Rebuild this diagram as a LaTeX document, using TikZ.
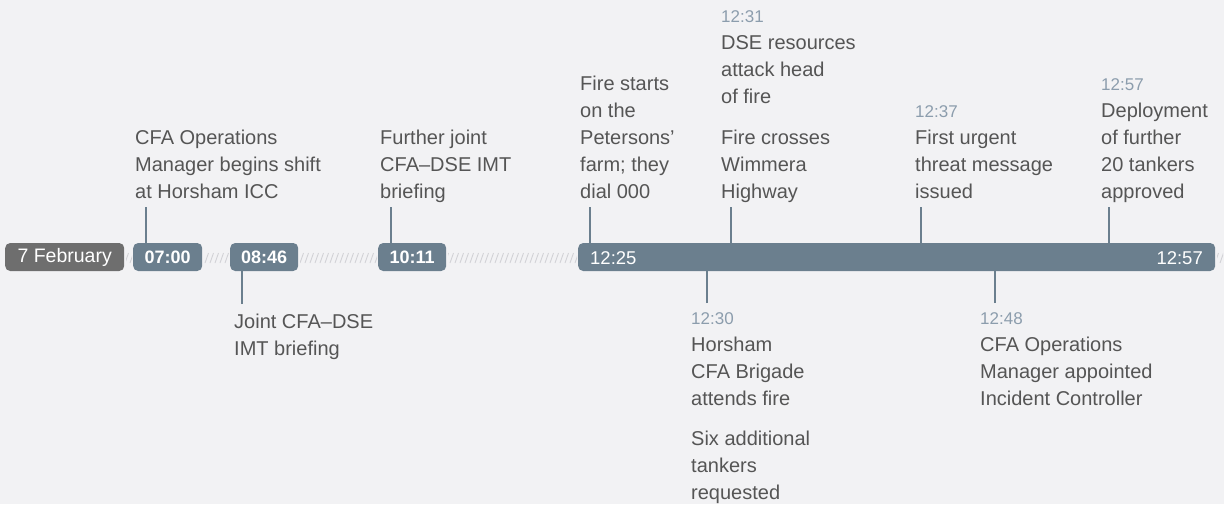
\documentclass[tikz,border=0pt]{standalone}
\usepackage{fontspec}
\setmainfont{Liberation Sans}
\definecolor{bgc}{HTML}{F2F2F4}
\definecolor{barc}{HTML}{6B7F8E}
\definecolor{febc}{HTML}{6E6E6E}
\definecolor{textc}{HTML}{555555}
\definecolor{stampc}{HTML}{8C9DAD}
\definecolor{hatchc}{HTML}{D2D2D6}
\newcommand\txtblock[5]{%
  \foreach \l [count=\i] in {#5} {
    \node[#1] (#2-\i) at (#3, {#4+27*(\i-1)}) {\l};
  }}
\begin{document}
\begin{tikzpicture}[x=1pt,y=-1pt,
  txt/.style={anchor=base west, inner sep=0pt, font=\fontsize{20}{27}\selectfont, text=textc},
  stamp/.style={anchor=base west, inner sep=0pt, font=\fontsize{17}{27}\selectfont, text=stampc},
  tbox/.style={anchor=west, rounded corners=5pt, minimum height=28pt, inner sep=0pt, text=white, font=\fontsize{18}{20}\selectfont\bfseries},
  tick/.style={draw=barc, line width=1.2pt},
  hatch/.style={draw=hatchc, line width=0.9pt}]
\fill[bgc] (0,0) rectangle (1224,504);
\useasboundingbox (0,0) rectangle (1224,504);
% hatched track
\foreach \a/\b in {124/133, 202/230, 298/378, 446/578, 1215/1224} {
  \begin{scope}
    \clip (\a+2,248) rectangle (\b-1,267);
    \foreach \x in {-10,-5,...,1230} \draw[hatch] (\x,263) -- (\x+3.5,253);
  \end{scope}
}
% boxes
\node[tbox, fill=febc, minimum width=119pt, font=\fontsize{19.5}{20}\selectfont] (feb) at (5,257) {7 February};
\node[tbox, fill=barc, minimum width=69pt] (b0700) at (133,257) {07:00};
\node[tbox, fill=barc, minimum width=68pt] (b0846) at (230,257) {08:46};
\node[tbox, fill=barc, minimum width=68pt] (b1011) at (378,257) {10:11};
\node[tbox, fill=barc, minimum width=637pt] (bar) at (578,257) {};
\node[anchor=base west, inner sep=0pt, text=white, font=\fontsize{18.5}{20}\selectfont] (l1225) at (590,264) {12:25};
\node[anchor=base east, inner sep=0pt, text=white, font=\fontsize{18.5}{20}\selectfont] (l1257) at (1203,264) {12:57};
% upper texts
\txtblock{txt}{t0700}{135}{144}{CFA Operations, Manager begins shift, at Horsham ICC}
\txtblock{txt}{t1011}{380}{144}{Further joint, CFA--DSE IMT, briefing}
\txtblock{txt}{t1225}{580}{90}{Fire starts, on the, Petersons', farm; they, dial 000}
\node[stamp] (s1231) at (721,22) {12:31};
\txtblock{txt}{t1231a}{721}{49}{DSE resources, attack head, of fire}
\txtblock{txt}{t1231b}{721}{144}{Fire crosses, Wimmera, Highway}
\node[stamp] (s1237) at (915,117) {12:37};
\txtblock{txt}{t1237}{915}{144}{First urgent, threat message, issued}
\node[stamp] (s1257) at (1101,90) {12:57};
\txtblock{txt}{t1257}{1101}{117}{Deployment, of further, 20 tankers, approved}
% lower texts
\txtblock{txt}{t0846}{234}{328}{Joint CFA--DSE, IMT briefing}
\node[stamp] (s1230) at (691,324) {12:30};
\txtblock{txt}{t1230a}{691}{351}{Horsham, CFA Brigade, attends fire}
\txtblock{txt}{t1230b}{691}{445.5}{Six additional, tankers, requested}
\node[stamp] (s1248) at (980,324) {12:48};
\txtblock{txt}{t1248}{980}{351}{CFA Operations, Manager appointed, Incident Controller}
% ticks
\coordinate (k0700) at (146,207);
\coordinate (k1011) at (391,207);
\coordinate (k1225) at (590,207);
\coordinate (k1231) at (731,207);
\coordinate (k1237) at (921,207);
\coordinate (k1257) at (1109,207);
\coordinate (k0846) at (242,304);
\coordinate (k1230) at (707,303);
\coordinate (k1248) at (995,303);
\draw[tick] (k0700) -- (k0700 |- b0700.north);
\draw[tick] (k1011) -- (k1011 |- b1011.north);
\draw[tick] (k1225) -- (k1225 |- bar.north);
\draw[tick] (k1231) -- (k1231 |- bar.north);
\draw[tick] (k1237) -- (k1237 |- bar.north);
\draw[tick] (k1257) -- (k1257 |- bar.north);
\draw[tick] (k0846) -- (k0846 |- b0846.south);
\draw[tick] (k1230) -- (k1230 |- bar.south);
\draw[tick] (k1248) -- (k1248 |- bar.south);
\end{tikzpicture}
\end{document}
